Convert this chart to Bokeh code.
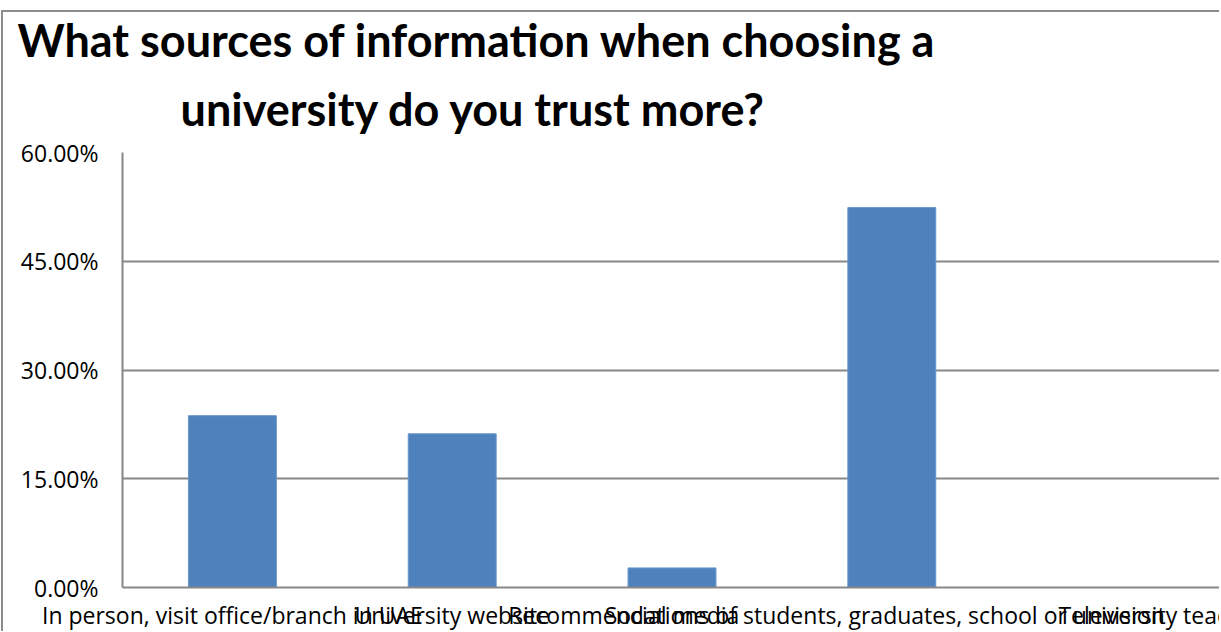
from bokeh.plotting import figure
from bokeh.models import Title, NumeralTickFormatter, FixedTicker, Range1d, FactorRange, ColumnDataSource
from bokeh.embed import file_html
from bokeh.resources import INLINE

title_line1 = "What sources of information when choosing a"
title_line2 = "university do you trust more?"
categories = [
    "In person, visit office/branch in UAE",
    "University website",
    "Social media",
    "Recommendations of students, graduates, school or university teachers",
    "Television",
]
shares = [0.237, 0.212, 0.027, 0.524, 0.0]
y_ticks = [0.0, 0.15, 0.30, 0.45, 0.60]

GRID = "#878787"
BAR = "#4F81BD"

p = figure(
    x_range=FactorRange(*categories, range_padding=0),
    y_range=Range1d(0, 0.60),
    width=1218, height=621,
    output_backend="svg", toolbar_location=None,
    min_border_left=119, min_border_right=0, min_border_top=140, min_border_bottom=46,
    margin=(10, 0, 0, 1),
)
p.title = None
p.styles = {"border-left": "2px solid #8c8c8c", "border-top": "2px solid #8c8c8c"}

src = ColumnDataSource(dict(cat=categories, val=shares))
p.vbar(x="cat", top="val", width=0.4, source=src, fill_color=BAR, line_color="#6a96cc", line_width=1)

p.add_layout(Title(text=title_line2, align="left", offset=58, text_font="Lato",
                   text_font_size="45px", text_font_style="bold", text_color="black", standoff=34), "above")
p.add_layout(Title(text=title_line1, align="left", offset=-105, text_font="Lato",
                   text_font_size="45px", text_font_style="bold", text_color="black", standoff=-8), "above")

p.yaxis.ticker = FixedTicker(ticks=y_ticks)
p.yaxis.formatter = NumeralTickFormatter(format="0.00%")
p.yaxis.major_label_text_font = "Open Sans"
p.yaxis.major_label_text_font_size = "23px"
p.yaxis.major_label_text_color = "black"
p.yaxis.major_tick_out = 0
p.yaxis.major_tick_in = 0
p.yaxis.minor_tick_out = 0
p.yaxis.minor_tick_in = 0
p.yaxis.major_label_standoff = 24
p.yaxis.axis_line_color = GRID
p.yaxis.axis_line_width = 2

p.xaxis.major_label_text_font = "Open Sans"
p.xaxis.major_label_text_font_size = "23px"
p.xaxis.major_label_text_color = "black"
p.xaxis.major_label_standoff = 11
p.xaxis.major_tick_out = 0
p.xaxis.major_tick_in = 0
p.xaxis.axis_line_color = GRID
p.xaxis.axis_line_width = 2

p.xgrid.grid_line_color = None
p.ygrid.ticker = FixedTicker(ticks=y_ticks)
p.ygrid.grid_line_color = GRID
p.ygrid.grid_line_width = 2
p.outline_line_color = None
p.background_fill_color = "white"
p.border_fill_color = "white"

open("out.html", "w").write(file_html(p, INLINE))
